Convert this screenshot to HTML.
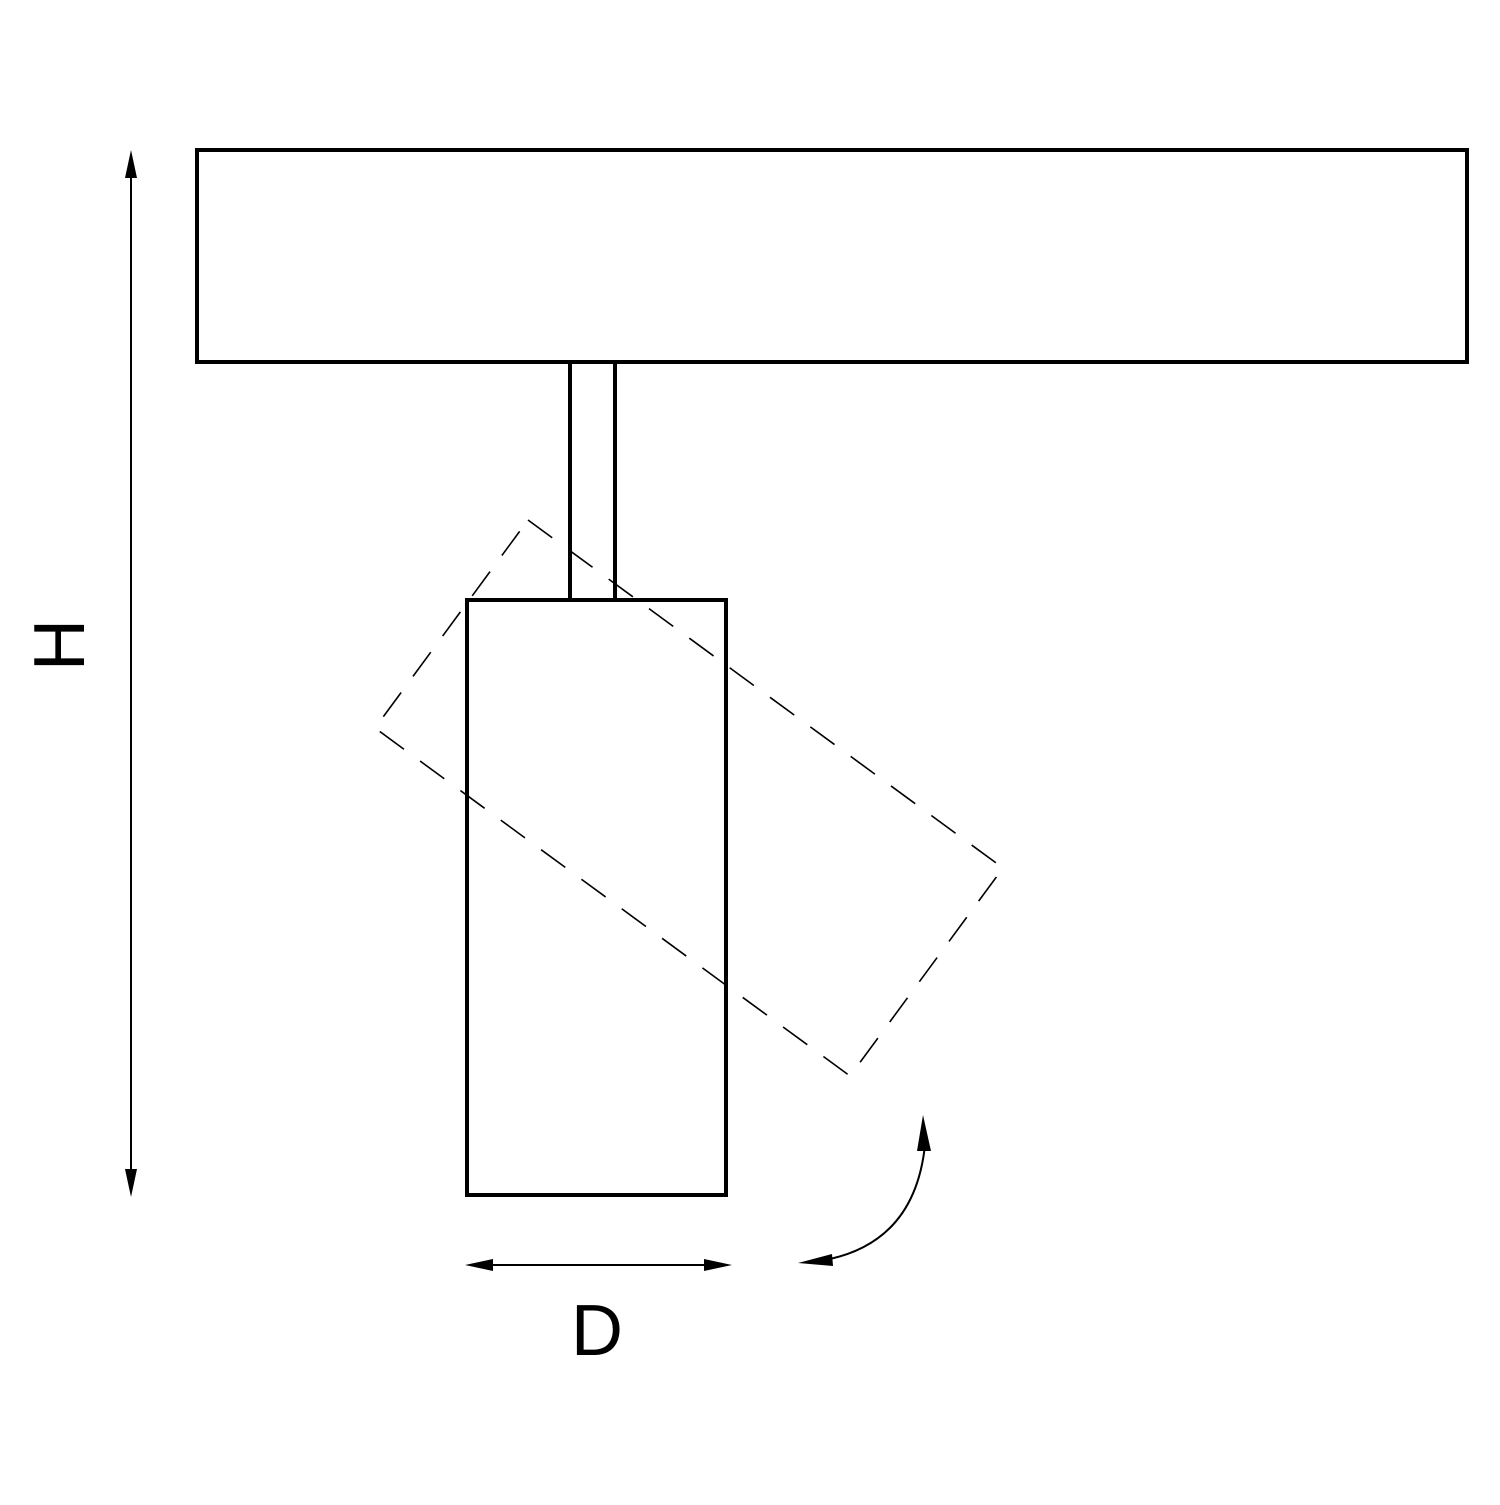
<!DOCTYPE html>
<html><head><style>html,body{margin:0;padding:0;background:#fff}</style></head>
<body>
<svg width="1500" height="1500" viewBox="0 0 1500 1500" xmlns="http://www.w3.org/2000/svg">
<rect width="1500" height="1500" fill="#fff"/>
<g fill="none" stroke="#000" stroke-width="4">
<rect x="197" y="150" width="1270" height="212"/>
<line x1="570" y1="362" x2="570" y2="600"/>
<line x1="615" y1="362" x2="615" y2="600"/>
<rect x="467" y="600" width="259" height="595"/>
</g>
<polygon points="528,520 1003,868 850,1076 375,728" fill="none" stroke="#000" stroke-width="1.6" stroke-dasharray="30,20"/>
<g stroke="#000" stroke-width="2" fill="none">
<line x1="131" y1="170" x2="131" y2="1175"/>
<line x1="487" y1="1265" x2="712" y2="1265"/>
<path d="M925,1145 Q915,1240 830,1259"/>
</g>
<g fill="#000">
<polygon points="131,150 125,178 137,178"/>
<polygon points="131,1197 125,1169 137,1169"/>
<polygon points="465,1265 493,1259 493,1271"/>
<polygon points="732,1265 704,1259 704,1271"/>
<polygon points="923,1115 917,1151 931,1151"/>
<polygon points="798,1263 832,1254 833,1266"/>
</g>
<text x="597" y="1355" font-family="Liberation Sans, sans-serif" font-size="72" text-anchor="middle">D</text>
<text transform="translate(84,645) rotate(-90)" font-family="Liberation Sans, sans-serif" font-size="72" text-anchor="middle">H</text>
</svg>
</body></html>
